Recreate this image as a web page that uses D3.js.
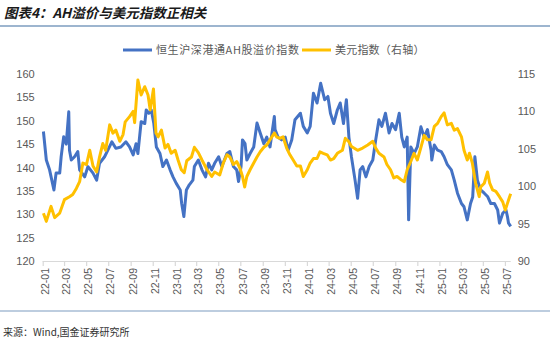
<!DOCTYPE html>
<html><head><meta charset="utf-8">
<script src="https://cdn.jsdelivr.net/npm/d3@7"></script>
<style>
html,body{margin:0;padding:0;background:#fff;}
svg{display:block;}
</style></head>
<body>
<svg id="c" width="550" height="342"></svg>
<script>
// ---- DATA ----
const title = "图表4：AH溢价与美元指数正相关";
const source = "来源：Wind,国金证券研究所";
const seriesNames = ["恒生沪深港通AH股溢价指数", "美元指数（右轴）"];
const leftTicks = [120,125,130,135,140,145,150,155,160];
const rightTicks = [90,95,100,105,110,115];

const ahDates = ["2022-01-03","2022-01-11","2022-01-20","2022-02-01","2022-02-07","2022-02-17","2022-02-21","2022-02-28","2022-03-07","2022-03-14","2022-03-16","2022-03-21","2022-03-30","2022-04-08","2022-04-13","2022-04-27","2022-05-06","2022-05-20","2022-05-30","2022-06-07","2022-06-21","2022-06-30","2022-07-11","2022-07-22","2022-08-05","2022-08-19","2022-08-29","2022-09-08","2022-09-16","2022-09-21","2022-09-30","2022-10-10","2022-10-14","2022-10-21","2022-10-28","2022-11-04","2022-11-11","2022-11-21","2022-11-29","2022-12-09","2022-12-19","2022-12-27","2023-01-05","2023-01-16","2023-01-20","2023-01-26","2023-02-02","2023-02-10","2023-02-20","2023-02-24","2023-03-07","2023-03-17","2023-03-27","2023-04-04","2023-04-13","2023-04-21","2023-05-02","2023-05-11","2023-05-25","2023-06-02","2023-06-12","2023-06-21","2023-06-26","2023-07-03","2023-07-07","2023-07-14","2023-07-19","2023-07-28","2023-08-07","2023-08-16","2023-08-25","2023-09-04","2023-09-12","2023-09-21","2023-10-03","2023-10-05","2023-10-13","2023-10-23","2023-11-02","2023-11-10","2023-11-20","2023-11-29","2023-12-14","2023-12-22","2024-01-02","2024-01-10","2024-01-19","2024-01-29","2024-02-08","2024-02-19","2024-02-28","2024-03-06","2024-03-15","2024-03-25","2024-04-02","2024-04-11","2024-04-19","2024-04-26","2024-05-03","2024-05-13","2024-05-20","2024-05-27","2024-06-03","2024-06-12","2024-06-21","2024-07-01","2024-07-09","2024-07-18","2024-07-26","2024-08-05","2024-08-15","2024-08-23","2024-09-02","2024-09-12","2024-09-19","2024-09-26","2024-10-04","2024-10-08","2024-10-14","2024-10-23","2024-11-01","2024-11-11","2024-11-20","2024-11-29","2024-12-09","2024-12-11","2024-12-18","2024-12-27","2025-01-06","2025-01-14","2025-01-23","2025-02-03","2025-02-11","2025-02-20","2025-03-03","2025-03-10","2025-03-19","2025-03-28","2025-04-03","2025-04-09","2025-04-16","2025-04-25","2025-05-05","2025-05-14","2025-05-23","2025-06-02","2025-06-11","2025-06-16","2025-06-25","2025-07-04","2025-07-08","2025-07-11","2025-07-17"];
const ahValues = [147.7,141.6,139.5,135.2,138.8,138.8,142.3,146.6,145.0,151.9,143.7,141.6,142.3,143.4,139.5,138.0,140.2,138.8,137.3,140.9,142.3,143.7,145.5,144.1,144.4,145.5,144.4,142.7,145.1,143.0,149.8,149.4,152.3,151.6,152.3,149.4,144.4,143.0,140.2,141.6,139.5,138.0,136.6,135.2,132.3,129.5,135.2,136.3,137.3,140.2,141.6,139.5,138.0,140.9,139.5,140.9,142.3,140.2,143.0,143.4,140.2,139.5,137.0,140.2,145.9,145.1,141.6,143.0,144.4,149.5,147.4,145.1,146.5,144.4,150.9,148.1,146.5,145.9,146.5,143.7,145.9,150.2,151.6,148.8,147.4,148.8,155.9,153.8,158.0,154.5,155.2,151.6,149.4,152.3,153.8,149.4,154.5,146.5,142.3,137.3,133.4,139.5,140.2,138.0,140.2,141.6,145.9,150.2,148.8,151.6,147.4,149.4,148.1,151.6,146.5,144.4,146.5,128.8,144.4,143.0,144.4,148.7,146.5,148.1,143.7,141.6,144.8,143.7,143.4,142.3,140.6,139.5,137.3,134.5,132.3,131.6,128.8,132.3,133.7,142.3,137.3,135.2,134.5,133.8,132.3,132.3,130.9,128.1,130.2,130.9,129.5,128.1,127.4];

const usdDates = ["2022-01-03","2022-01-11","2022-01-24","2022-02-03","2022-02-17","2022-03-02","2022-03-16","2022-03-25","2022-04-04","2022-04-13","2022-04-22","2022-05-02","2022-05-11","2022-05-20","2022-05-30","2022-06-07","2022-06-16","2022-06-24","2022-07-05","2022-07-14","2022-07-22","2022-08-02","2022-08-11","2022-08-17","2022-08-29","2022-09-08","2022-09-12","2022-09-21","2022-09-30","2022-10-10","2022-10-19","2022-10-25","2022-11-03","2022-11-10","2022-11-16","2022-11-25","2022-12-05","2022-12-13","2022-12-22","2023-01-02","2023-01-10","2023-01-19","2023-01-27","2023-02-03","2023-02-16","2023-02-24","2023-03-07","2023-03-17","2023-03-31","2023-04-13","2023-04-21","2023-05-05","2023-05-15","2023-05-25","2023-06-02","2023-06-12","2023-06-21","2023-06-30","2023-07-07","2023-07-13","2023-07-19","2023-07-28","2023-08-07","2023-08-16","2023-08-25","2023-09-04","2023-09-12","2023-09-21","2023-10-03","2023-10-09","2023-10-18","2023-10-27","2023-11-06","2023-11-15","2023-11-24","2023-12-04","2023-12-14","2023-12-22","2024-01-02","2024-01-10","2024-01-19","2024-01-29","2024-02-06","2024-02-15","2024-02-26","2024-03-06","2024-03-15","2024-03-25","2024-04-08","2024-04-16","2024-04-25","2024-05-03","2024-05-20","2024-06-03","2024-06-17","2024-07-01","2024-07-09","2024-07-18","2024-08-01","2024-08-09","2024-08-19","2024-08-28","2024-09-06","2024-09-16","2024-09-26","2024-10-04","2024-10-14","2024-10-23","2024-11-01","2024-11-11","2024-11-20","2024-11-29","2024-12-09","2024-12-18","2024-12-27","2025-01-06","2025-01-14","2025-01-23","2025-02-03","2025-02-11","2025-02-20","2025-03-03","2025-03-10","2025-03-19","2025-03-25","2025-04-02","2025-04-11","2025-04-21","2025-04-25","2025-05-05","2025-05-14","2025-05-20","2025-05-28","2025-06-06","2025-06-16","2025-06-25","2025-07-02","2025-07-08","2025-07-14","2025-07-17"];
const usdValues = [96.4,95.3,97.3,95.8,96.4,98.2,98.6,98.9,99.7,100.6,103.1,102.9,104.8,102.7,101.9,103.9,105.7,104.8,108.2,107.1,107.5,106.0,106.9,108.6,109.3,110.0,108.5,114.2,112.2,113.3,112.2,110.2,113.0,107.1,106.6,107.5,105.1,105.6,104.4,104.8,103.5,102.2,101.8,103.4,103.9,105.2,104.5,103.5,102.2,101.3,101.9,101.5,103.1,104.2,103.9,102.9,103.3,102.4,101.3,99.9,101.3,102.2,103.1,103.9,104.6,105.2,105.5,106.2,107.1,106.6,106.4,106.6,105.1,104.2,103.5,102.7,102.7,101.3,102.2,103.1,103.7,103.7,104.6,104.4,104.2,103.5,103.7,104.4,104.8,106.4,106.0,105.3,104.8,105.1,105.5,106.0,105.1,104.4,103.9,102.9,102.2,101.1,101.3,100.9,100.6,102.2,103.3,104.4,103.5,105.2,106.8,106.2,106.2,108.0,108.4,109.3,109.8,108.2,108.4,107.5,107.7,106.6,104.8,103.5,104.4,103.1,100.4,98.6,99.9,100.4,101.9,100.4,99.5,99.3,98.6,97.9,96.8,97.7,98.6,99.0];

const xStart = "2022-01-01", xEnd = "2025-07-17";

// ---- DRAW ----
const parse = d3.timeParse("%Y-%m-%d");
const svg = d3.select("#c");
const M = {l:42.7, r:510.7, t:74, b:261};

const x = d3.scaleTime().domain([parse(xStart), parse(xEnd)]).range([M.l, M.r]);
const yL = d3.scaleLinear().domain([120,160]).range([M.b, M.t]);
const yR = d3.scaleLinear().domain([90,115]).range([M.b, M.t]);

// title & rules
svg.append("text").attr("x",4).attr("y",18).text(title)
  .attr("font-family","'Noto Sans CJK SC', sans-serif").attr("font-weight","bold")
  .attr("font-style","italic").attr("font-size",13.5).attr("fill","#1a1a1a");
svg.append("line").attr("x1",0).attr("x2",550).attr("y1",26).attr("y2",26)
  .attr("stroke","#7C9CBF").attr("stroke-width",1.5);
svg.append("line").attr("x1",0).attr("x2",550).attr("y1",311).attr("y2",311)
  .attr("stroke","#7C9CBF").attr("stroke-width",1.2);
svg.append("text").attr("x",3).attr("y",336).text(source)
  .attr("font-family","'Noto Sans CJK SC', sans-serif").attr("font-size",10).attr("fill","#333");

// axes
const axisFont = "'Liberation Sans', Arial, sans-serif";
const gL = svg.append("g").attr("transform",`translate(${M.l},0)`)
  .call(d3.axisLeft(yL).tickValues(leftTicks).tickSize(0).tickPadding(8));
const gR = svg.append("g").attr("transform",`translate(${M.r},0)`)
  .call(d3.axisRight(yR).tickValues(rightTicks).tickSize(0).tickPadding(7));
[gL,gR].forEach(g=>{
  g.select(".domain").remove();
  g.selectAll("text").attr("font-family",axisFont).attr("font-size",11).attr("fill","#595959");
});

const xTicks = d3.timeMonth.every(2).range(parse("2022-01-01"), parse("2025-07-02"));
const gX = svg.append("g").attr("transform",`translate(0,${M.b})`)
  .call(d3.axisBottom(x).tickValues(xTicks).tickSize(5).tickFormat(d3.timeFormat("%y-%m")));
gX.select(".domain").attr("stroke","#D9D9D9").attr("stroke-width",1.2).attr("d",`M${M.l},0.5H${M.r}`);
gX.selectAll(".tick line").attr("stroke","#D9D9D9").attr("stroke-width",1.2);
gX.selectAll(".tick text")
  .attr("font-family",axisFont).attr("font-size",10.5).attr("fill","#595959")
  .attr("text-anchor","end").attr("transform","rotate(-90)")
  .attr("x",-7).attr("y",2).attr("dy","0.35em").attr("dx",0);

// lines
const ah = ahDates.map((d,i)=>({d:parse(d), v:ahValues[i]}));
const usd = usdDates.map((d,i)=>({d:parse(d), v:usdValues[i]}));
svg.append("path").datum(ah).attr("fill","none").attr("stroke","#4472C4")
  .attr("stroke-width",3).attr("stroke-linejoin","round")
  .attr("d", d3.line().x(p=>x(p.d)).y(p=>yL(p.v)));
svg.append("path").datum(usd).attr("fill","none").attr("stroke","#FFC000")
  .attr("stroke-width",3).attr("stroke-linejoin","round")
  .attr("d", d3.line().x(p=>x(p.d)).y(p=>yR(p.v)));

// legend
const legFont = "'Noto Sans CJK SC', sans-serif";
const leg = [{c:"#4472C4", x1:123, x2:152, tx:156, t:seriesNames[0], ls:0.6},
             {c:"#FFC000", x1:302, x2:331, tx:335, t:seriesNames[1], ls:0.2}];
leg.forEach(l=>{
  svg.append("line").attr("x1",l.x1).attr("x2",l.x2).attr("y1",50).attr("y2",50)
    .attr("stroke",l.c).attr("stroke-width",3);
  svg.append("text").attr("x",l.tx).attr("y",54).text(l.t)
    .attr("font-family",legFont).attr("font-size",11).attr("letter-spacing",l.ls).attr("fill","#595959");
});
</script>
</body></html>
